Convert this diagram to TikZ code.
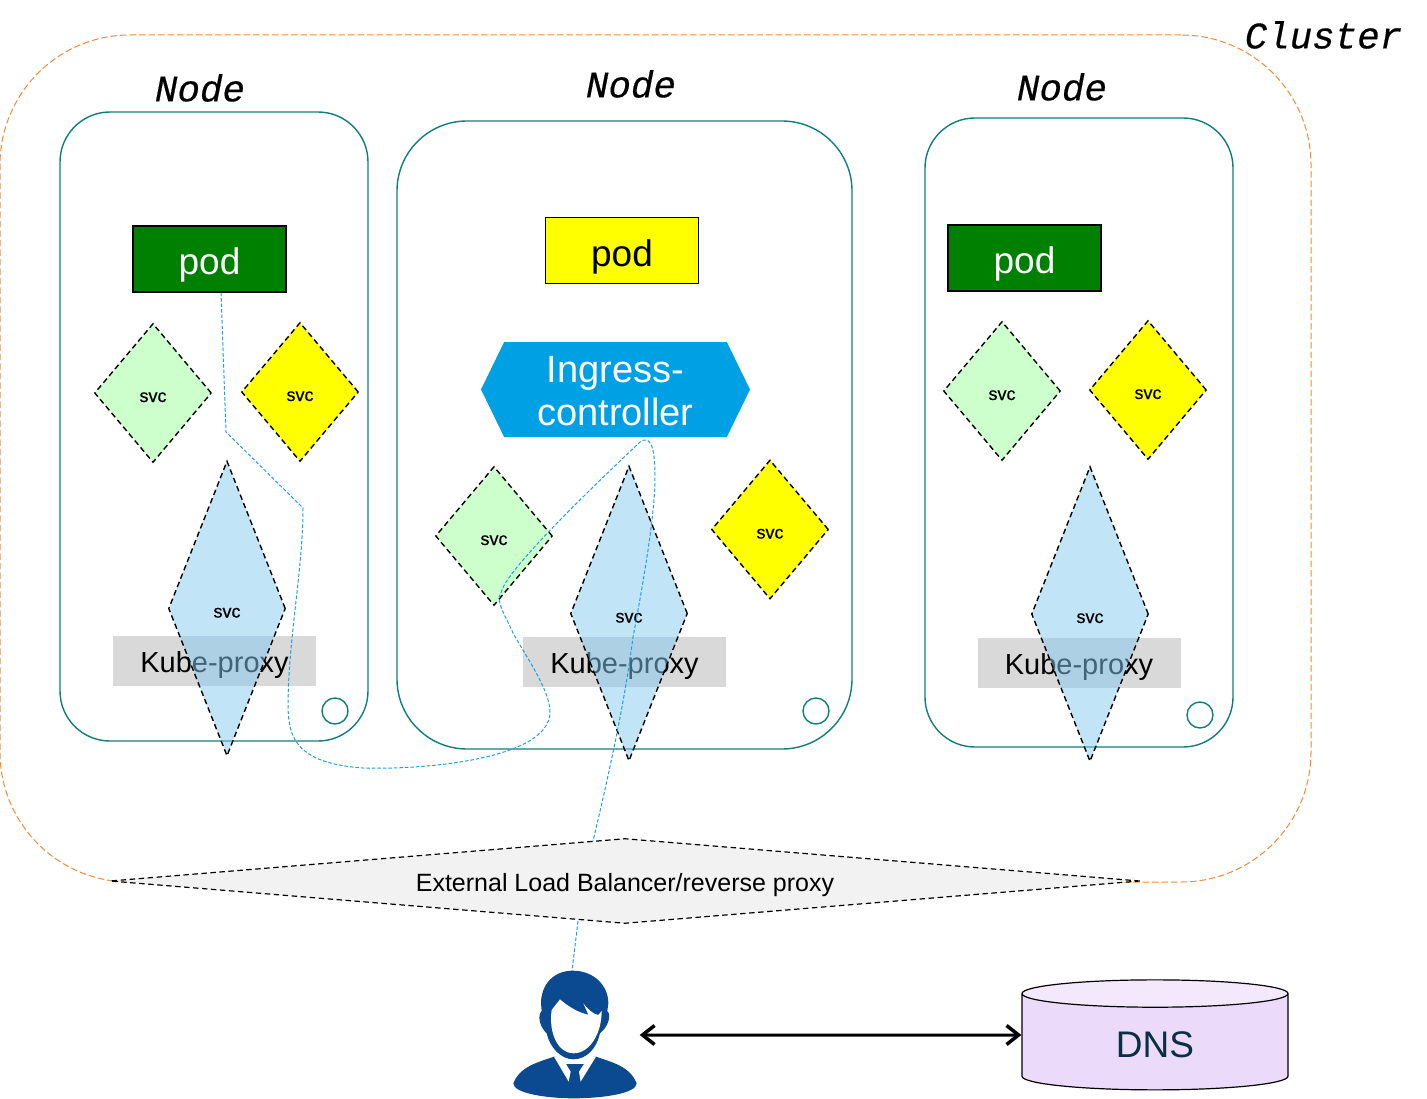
\documentclass[tikz,border=0pt]{standalone}
\usepackage{fontspec}
\setmainfont{Liberation Sans}
\newfontfamily\monofont[FakeBold=0.4]{Liberation Mono}
\newfontfamily\svcfont[FakeBold=0.5]{Liberation Sans}
\usetikzlibrary{shapes.geometric, shapes.symbols, arrows.meta}
\definecolor{tealline}{HTML}{0F7F7A}
\definecolor{clusterline}{HTML}{F58A32}
\definecolor{linkblue}{HTML}{1BA1E2}
\definecolor{iconblue}{HTML}{0B4A90}
\definecolor{padyellow}{HTML}{FFFF00}
\definecolor{podgreen}{HTML}{008000}
\definecolor{svclight}{HTML}{CCFFCC}
\definecolor{ingressblue}{HTML}{00A0E4}
\definecolor{dnsbody}{HTML}{EBDAF9}
\definecolor{dnstop}{HTML}{F4E9FC}
\definecolor{dnstext}{HTML}{0A2E42}
\definecolor{proxygray}{HTML}{D9D9D9}
\newcommand{\fsize}[1]{\fontsize{#1}{#1}\selectfont}

\begin{document}
\begin{tikzpicture}[
    x=1pt, y=-1pt,
    % Rahmen
    clusterbox/.style={draw=clusterline, line width=1pt, dash pattern=on 6.5pt off 3pt, rounded corners=130pt, minimum width=1311pt, minimum height=847pt},
    nodebox/.style={draw=tealline, line width=1.4pt, rounded corners=#1, inner sep=0pt},
    nodetitle/.style={font=\monofont\itshape\fsize{37.5}, inner sep=0pt},
    podbox/.style={draw=black, line width=1.2pt, minimum width=153pt, minimum height=66pt, inner sep=0pt, font=\fsize{37}, text height=34pt, text depth=2pt},
    % svc Rauten
    svc/.style={shape=diamond, draw=black, line width=1.4pt, dash pattern=on 5.5pt off 3.5pt, inner sep=0pt, minimum width=117pt, font=\svcfont\fsize{18},
        text height=18pt, text depth=0pt},
    svcgreen/.style={svc, fill=svclight, minimum height=139pt, aspect=0.84},
    svcyellow/.style={svc, fill=padyellow, minimum height=139pt, aspect=0.84},
    svcblue/.style={svc, fill={rgb,255:red,131;green,201;blue,239}, fill opacity=0.5, text opacity=1, minimum height=295pt, aspect=0.39},
    proxybox/.style={fill=proxygray, minimum width=203pt, minimum height=50pt, inner sep=0pt, font=\fsize{29}, text height=24pt, text depth=2pt},
    dot/.style={shape=circle, draw=tealline, line width=1.4pt, minimum size=26pt, inner sep=0pt},
    % Verbindungen
    link/.style={draw=linkblue, line width=1pt, dash pattern=on 3.5pt off 2pt},
    both/.style={{Straight Barb[length=12pt,width=19pt,line width=3.5pt]}-{Straight Barb[length=12pt,width=19pt,line width=3.5pt]}, line width=3pt}
]
\useasboundingbox (0,0) rectangle (1427,1099);

% --- CLUSTER ---
\node[clusterbox] (cluster) at (655.5,458.5) {};
\node[nodetitle] (clustertitle) at (1323.5,35) {Cluster};

% --- LINKS: NODE 1 ---
\node[nodebox=50pt, minimum width=308pt, minimum height=629pt] (nodeleft) at (214,426.5) {};
\node[nodetitle] (titleleft) at (200,88) {Node};
\node[podbox, fill=podgreen, text=white] (podleft) at (209.5,259) {pod};
\node[svcgreen] (svcleftgreen) at (153,393) {svc};
\node[svcyellow] (svcleftyellow) at (300,392) {svc};
\node[proxybox] (proxyleft) at (214.5,661) {Kube-proxy};
\node[svcblue] (svcleftblue) at (227,608.5) {svc};
\node[dot] (dotleft) at (335,711) {};

% --- MITTE: NODE 2 ---
\node[nodebox=70pt, minimum width=455pt, minimum height=628pt] (nodemid) at (624.5,435) {};
\node[nodetitle] (titlemid) at (631,84) {Node};
\node[podbox, fill=padyellow] (podmid) at (622,250.5) {pod};
\node[shape=signal, signal to=east and west, signal pointer angle=128, fill=ingressblue, text=white,
      minimum width=269pt, minimum height=95pt, inner sep=0pt, align=center, font=\fsize{38}] (ingress) at (615.5,389.5)
      {\rule{0pt}{30pt}Ingress-\\[5pt]controller};
\node[svcgreen] (svcmidgreen) at (494,536) {svc};
\node[svcyellow] (svcmidyellow) at (770,529.5) {svc};
\node[proxybox] (proxymid) at (624.5,662) {Kube-proxy};
\node[svcblue] (svcmidblue) at (629,613.5) {svc};
\node[dot] (dotmid) at (816,711) {};

% --- RECHTS: NODE 3 ---
\node[nodebox=50pt, minimum width=308pt, minimum height=629pt] (noderight) at (1079,432.5) {};
\node[nodetitle] (titleright) at (1062,87) {Node};
\node[podbox, fill=podgreen, text=white] (podright) at (1024.5,258) {pod};
\node[svcgreen] (svcrightgreen) at (1002,391) {svc};
\node[svcyellow] (svcrightyellow) at (1148,390) {svc};
\node[proxybox] (proxyright) at (1079,663) {Kube-proxy};
\node[svcblue] (svcrightblue) at (1090,614) {svc};
\node[dot] (dotright) at (1200,715) {};

% --- UNTEN ---
\node[shape=diamond, draw=black, dash pattern=on 5.5pt off 3.5pt, line width=1.2pt, fill=gray!10, inner sep=0pt, aspect=12,
      minimum width=1030pt, minimum height=85pt, font=\fsize{25}, text height=23pt, text depth=2pt] (balancer) at (625,881) {External Load Balancer/reverse proxy};
\node[inner sep=0pt, minimum width=125pt, minimum height=128pt] (user) at (575,1035) {};
\node[shape=cylinder, shape border rotate=90, aspect=0.35, draw=black, line width=1.2pt, inner sep=0pt,
      cylinder uses custom fill, cylinder body fill=dnsbody, cylinder end fill=dnstop,
      minimum width=266pt, minimum height=110pt, text=dnstext, font=\fsize{37}, text height=30pt, text depth=0pt] (dns) at (1155,1042) {DNS};

% Benutzer-Symbol
\begin{scope}[shift={(480,940)}, scale=0.3333]
    \fill[iconblue] (100,430) .. controls (120,380) and (170,368) .. (222,350) -- (348,350)
        .. controls (400,368) and (450,380) .. (470,430)
        .. controls (470,460) and (370,475) .. (280,475) .. controls (200,475) and (100,460) .. (100,430) -- cycle;
    \fill[white] (222,350) -- (266,425) -- (272,395) -- (258,372) -- (312,372) -- (297,395) -- (302,425) -- (348,350) -- (280,340) -- cycle;
    \fill[iconblue] (278,92) .. controls (220,92) and (183,135) .. (183,190) -- (185,213)
        .. controls (172,225) and (178,260) .. (200,280) .. controls (210,325) and (245,358) .. (280,358)
        .. controls (320,358) and (350,325) .. (360,280) .. controls (385,260) and (395,225) .. (382,213)
        -- (385,190) .. controls (385,135) and (340,92) .. (278,92) -- cycle;
    \fill[white] (215,210) -- (240,178) .. controls (265,200) and (295,218) .. (325,224) -- (310,190)
        .. controls (325,210) and (340,222) .. (355,225) -- (365,213)
        .. controls (365,280) and (330,340) .. (280,340) .. controls (235,340) and (205,280) .. (215,210) -- cycle;
\end{scope}

% Verbindungen
\draw[link] ([xshift=11.5pt]podleft.south) -- (226,432) -- (303,508)
    .. controls (303,570) and (288,640) .. (288,707)
    .. controls (289,735) and (293,763) .. (363,768)
    .. controls (420,770) and (550,760) .. (550,712)
    .. controls (550,690) and (525,655) .. (513,633)
    .. controls (505,615) and (495,600) .. (501,593)
    .. controls (505,570) and (600,480) .. (640,442)
    .. controls (650,435) and (655,445) .. (655,477)
    .. controls (655,520) and (640,600) .. (633,637)
    .. controls (625,700) and (610,770) .. ([xshift=-32pt,yshift=-3pt]balancer.north);
\draw[link] ([xshift=-47pt,yshift=3pt]balancer.south) -- ([xshift=-3pt]user.north);
\draw[both] ([xshift=2pt]user.east) -- ([yshift=7pt]dns.west);

\end{tikzpicture}
\end{document}
